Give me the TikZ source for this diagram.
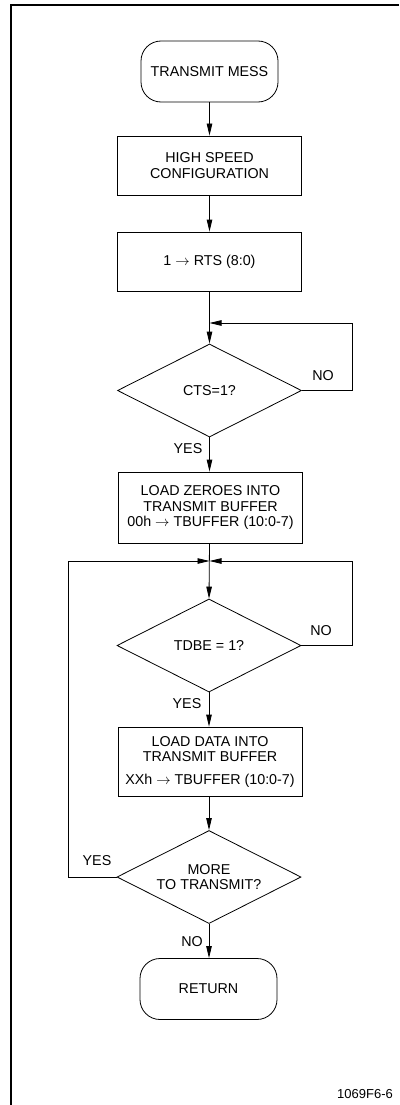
\documentclass[tikz,border=0pt]{standalone}
\usepackage{fontspec}
\setmainfont{Liberation Sans}
\usetikzlibrary{shapes.geometric,arrows.meta}
\begin{document}
\begin{tikzpicture}[x=1pt,y=-1pt,
  every node/.style={font=\fontsize{14.3}{15.5}\selectfont},
  terminal/.style={draw,line width=0.8pt,rounded corners=20pt,minimum width=137pt,minimum height=61pt,inner sep=0pt},
  procbox/.style={draw,line width=0.8pt,minimum width=184pt,inner sep=0pt,align=center},
  decision/.style={draw,line width=0.8pt,diamond,shape aspect=2,minimum width=184pt,minimum height=93pt,inner sep=0pt,align=center},
  flow/.style={line width=0.8pt,-{Triangle[length=12pt,width=5.5pt]}},
  tag/.style={inner sep=0pt}]
  % canvas and frame
  \useasboundingbox (0,0) rectangle (399,1105);
  \draw[line width=2pt] (399,5.5) -- (10.5,5.5) -- (10.5,1105);

  % blocks
  \node[terminal] (start) at (209.5,71.5) {TRANSMIT MESS};
  \node[procbox,minimum height=59pt] (hs) at (209.5,165.5) {HIGH SPEED\\CONFIGURATION};
  \node[procbox,minimum height=59pt] (rts) at (209.5,261.5) {1 $\rightarrow$ RTS (8:0)};
  \node[decision] (cts) at (209.5,390.5) {CTS=1?};
  \node[procbox,minimum height=71pt] (zero) at (210.5,507.5) {LOAD ZEROES INTO\\TRANSMIT BUFFER\\00h $\rightarrow$ TBUFFER (10:0-7)};
  \node[decision] (tdbe) at (209,645.5) {TDBE = 1?};
  \node[procbox,minimum height=69pt] (data) at (210,761.5) {LOAD DATA INTO\\TRANSMIT BUFFER\\[7pt]XXh $\rightarrow$ TBUFFER (10:0-7)};
  \node[decision] (more) at (209,877) {MORE\\TO TRANSMIT?};
  \node[terminal] (ret) at (208.5,989) {RETURN};

  % merge points and loop corners
  \coordinate (m1) at (209.5,323);
  \coordinate (m2) at (209.5,561);
  \coordinate (r1) at (352,390.5);
  \coordinate (r2) at (352,645.5);
  \coordinate (l3) at (68,877);

  % connectors
  \draw[flow] (start) -- (hs);
  \draw[flow] (hs) -- (rts);
  \draw[flow] (rts.south) -- (cts.north);
  \draw[flow] (cts.east) -- (r1) |- (m1);
  \draw[flow] (cts.south) -- (cts.south |- zero.north);
  \draw[flow] (zero.south -| m2) -- (tdbe.north);
  \draw[flow] (tdbe.east) -- (r2) |- (m2);
  \draw[flow] (tdbe.south) -- (tdbe.south |- data.north);
  \draw[flow] (data.south -| more.north) -- (more.north);
  \draw[flow] (more.west) -- (l3) |- (m2);
  \draw[flow] (more.south) -- (ret.north -| more.south);

  % branch labels
  \node[tag] at (323,376) {NO};
  \node[tag] at (188,449) {YES};
  \node[tag] at (321,631) {NO};
  \node[tag] at (187,704) {YES};
  \node[tag] at (97,861) {YES};
  \node[tag] at (192,942) {NO};

  % figure number
  \node[tag,font=\fontsize{13}{15}\selectfont] (fig) at (365,1094) {1069F6-6};
\end{tikzpicture}
\end{document}
